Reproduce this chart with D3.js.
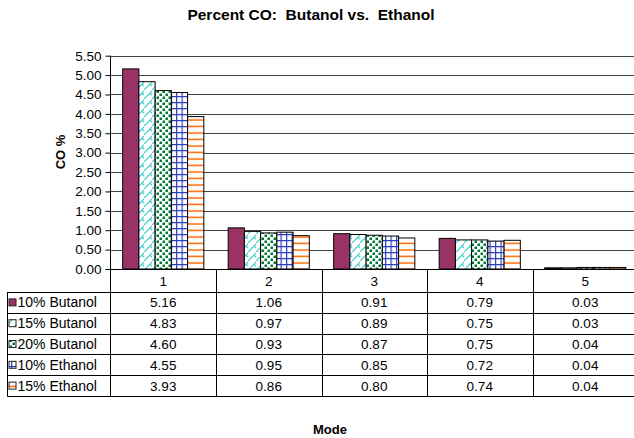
<!DOCTYPE html>
<html><head><meta charset="utf-8">
<script src="https://cdn.jsdelivr.net/npm/d3@7"></script>
<style>
html,body{margin:0;padding:0;background:#fff;}
svg{display:block;font-family:"Liberation Sans",Arial,sans-serif;}
</style></head>
<body>
<svg id="chart" width="634" height="438"></svg>
<script>
const categories = ["1","2","3","4","5"];
const seriesNames = ["10% Butanol","15% Butanol","20% Butanol","10% Ethanol","15% Ethanol"];
const butanol10 = [5.16,1.06,0.91,0.79,0.03];
const butanol15 = [4.83,0.97,0.89,0.75,0.03];
const butanol20 = [4.60,0.93,0.87,0.75,0.04];
const ethanol10 = [4.55,0.95,0.85,0.72,0.04];
const ethanol15 = [3.93,0.86,0.80,0.74,0.04];
const yTicks = [0,0.5,1,1.5,2,2.5,3,3.5,4,4.5,5,5.5];
const title = "Percent CO:  Butanol vs.  Ethanol";
const yLabel = "CO %";
const xLabel = "Mode";

(function(){
const seriesValues = [butanol10,butanol15,butanol20,ethanol10,ethanol15];
const series = seriesNames.map((n,i)=>({name:n, key:"s"+i, values:seriesValues[i]}));

const svg = d3.select("#chart");
const pLeft = 110.5, pRight = 638, pTop = 55.7, base = 269;
const tableTop = 292, rowH = 20.8, legendLeft = 7.5;

const x = d3.scaleBand().domain(categories).range([pLeft,pRight]).paddingInner(0).paddingOuter(0);
const xs = d3.scaleBand().domain(series.map(s=>s.key)).range([0,x.bandwidth()]).paddingInner(0).paddingOuter(0.75);
const y = d3.scaleLinear().domain([0,5.5]).range([base,pTop]);

// patterns
const defs = svg.append("defs");
function pat(id,w,h){ return defs.append("pattern").attr("id",id).attr("patternUnits","userSpaceOnUse").attr("width",w).attr("height",h); }
let p;
p = pat("p1",8,9); p.append("rect").attr("width",8).attr("height",9).attr("fill","#fff");
p.append("path").attr("d","M0,9 L6,3 L8,5 M-2,3 L0,5 M6,3 L9,0").attr("stroke","#33CCCC").attr("stroke-width",1.2).attr("fill","none");
p = pat("p2",6,6); p.append("rect").attr("width",6).attr("height",6).attr("fill","#fff");
p.append("rect").attr("x",0.5).attr("y",0.5).attr("width",2.5).attr("height",2.5).attr("fill","#007A33");
p.append("rect").attr("x",3.5).attr("y",3.5).attr("width",2.5).attr("height",2.5).attr("fill","#007A33");
p = pat("p3",5.5,6); p.append("rect").attr("width",5.5).attr("height",6).attr("fill","#fff");
p.append("path").attr("d","M0.6,0 V6 M0,0.6 H5.5").attr("stroke","#2B3FBF").attr("stroke-width",1.2).attr("fill","none");
p = pat("p4",6,6.5); p.append("rect").attr("width",6).attr("height",6.5).attr("fill","#fff");
p.append("path").attr("d","M0,3 H6").attr("stroke","#FF6600").attr("stroke-width",1.5).attr("fill","none");
const fills = ["#993366","url(#p1)","url(#p2)","url(#p3)","url(#p4)"];

// gridlines
svg.append("g").selectAll("line").data(yTicks.filter(t=>t>0)).join("line")
  .attr("x1",pLeft).attr("x2",pRight).attr("y1",d=>Math.round(y(d))+0.5).attr("y2",d=>Math.round(y(d))+0.5)
  .attr("stroke","#444").attr("stroke-width",1);

// bars
const g = svg.append("g");
series.forEach((s,i)=>{
  g.append("g").selectAll("rect").data(s.values.map((v,j)=>({v,c:categories[j]}))).join("rect")
    .attr("x",d=>x(d.c)+xs(s.key)).attr("width",xs.bandwidth())
    .attr("y",d=>y(d.v)).attr("height",d=>base-y(d.v))
    .attr("fill",fills[i]).attr("stroke","#000").attr("stroke-width",1);
});

// y axis
const yAxis = d3.axisLeft(y).tickValues(yTicks).tickFormat(d3.format(".2f")).tickSize(5).tickPadding(4);
const ya = svg.append("g").attr("transform",`translate(${pLeft},0)`).call(yAxis);
ya.select(".domain").remove();
ya.selectAll("line").attr("stroke","#000");
ya.selectAll("text").attr("font-size",13.5).attr("fill","#000").attr("font-family","Liberation Sans, Arial, sans-serif");
svg.append("line").attr("x1",pLeft).attr("x2",pLeft).attr("y1",pTop).attr("y2",tableTop+rowH*5).attr("stroke","#000");

// table lines
const tb = svg.append("g").attr("stroke","#000").attr("stroke-width",1);
tb.append("line").attr("x1",pLeft).attr("x2",pRight).attr("y1",base+0.5).attr("y2",base+0.5);
for(let r=0;r<=5;r++){
  const yy = Math.round(tableTop+r*rowH)+0.5;
  tb.append("line").attr("x1",legendLeft).attr("x2",pRight).attr("y1",yy).attr("y2",yy);
}
tb.append("line").attr("x1",legendLeft).attr("x2",legendLeft).attr("y1",tableTop).attr("y2",tableTop+5*rowH+0.5);
categories.forEach(c=>{
  const xx = Math.round(x(c)+x.bandwidth())+0.5;
  tb.append("line").attr("x1",xx).attr("x2",xx).attr("y1",base).attr("y2",tableTop+5*rowH+0.5);
});

// header texts
svg.append("g").selectAll("text").data(categories).join("text")
  .attr("x",d=>x(d)+x.bandwidth()/2).attr("y",(base+tableTop)/2+5)
  .attr("text-anchor","middle").attr("font-size",13.5).text(d=>d);

// rows
series.forEach((s,i)=>{
  const cy = tableTop + rowH*i + rowH/2;
  svg.append("rect").attr("x",9).attr("y",cy-3.5).attr("width",7).attr("height",7)
    .attr("fill",fills[i]).attr("stroke","#222").attr("stroke-width",1);
  svg.append("text").attr("x",17.5).attr("y",cy+5).attr("font-size",14).text(s.name);
  svg.append("g").selectAll("text").data(s.values.map((v,j)=>({v,c:categories[j]}))).join("text")
    .attr("x",d=>x(d.c)+x.bandwidth()/2).attr("y",cy+5).attr("text-anchor","middle")
    .attr("font-size",13.5).text(d=>d3.format(".2f")(d.v));
});

// titles
svg.append("text").attr("x",311).attr("y",20).attr("text-anchor","middle").attr("font-size",15.5)
  .attr("font-weight","bold").style("white-space","pre").text(title);
svg.append("text").attr("transform","translate(65,152) rotate(-90)").attr("text-anchor","middle")
  .attr("font-size",13).attr("font-weight","bold").style("white-space","pre").text(yLabel);
svg.append("text").attr("x",330).attr("y",434).attr("text-anchor","middle").attr("font-size",13)
  .attr("font-weight","bold").text(xLabel);
})();
</script>
</body></html>
